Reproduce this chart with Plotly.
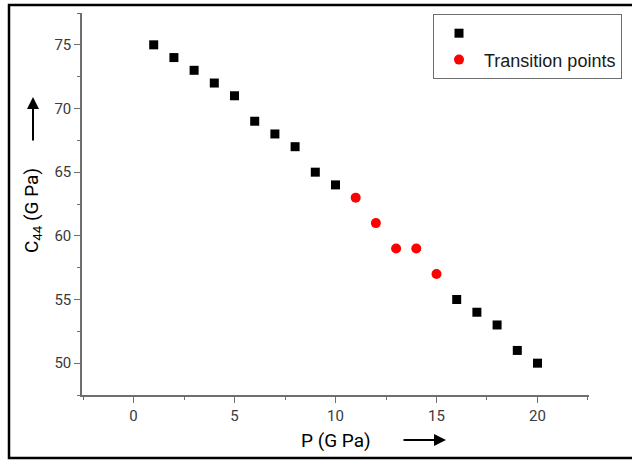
import plotly.graph_objects as go

# Data
p_normal = [1, 2, 3, 4, 5, 6, 7, 8, 9, 10, 16, 17, 18, 19, 20]
c44_normal = [75, 74, 73, 72, 71, 69, 68, 67, 65, 64, 55, 54, 53, 51, 50]
p_transition = [11, 12, 13, 14, 15]
c44_transition = [63, 61, 59, 59, 57]
x_ticks = [0, 5, 10, 15, 20]
y_ticks = [50, 55, 60, 65, 70, 75]

W, H = 632, 460
L, R, T, B = 82, 43, 13, 65
pw, ph = W - L - R, H - T - B


def px(xp):
    return (xp - L) / pw


def py(yp):
    return (H - B - yp) / ph


fig = go.Figure()
fig.add_trace(go.Scatter(
    x=p_normal, y=c44_normal, mode="markers", name=" ",
    marker=dict(symbol="square", size=9, color="black"),
))
fig.add_trace(go.Scatter(
    x=p_transition, y=c44_transition, mode="markers", name="Transition points",
    marker=dict(symbol="circle", size=10, color="#ff0000"),
))

axis_common = dict(
    showgrid=False, zeroline=False, showline=True, linecolor="#6e6e6e", linewidth=1.5,
    ticks="outside", ticklen=6, tickwidth=1.2, tickcolor="#6e6e6e",
    tickfont=dict(family="Roboto", size=15, color="#3a3a3a"),
    minor=dict(ticks="outside", ticklen=3, tickwidth=1.2, tickcolor="#6e6e6e", dtick=2.5),
    automargin=False,
)

fig.update_xaxes(range=[-2.55, 22.55], tickvals=x_ticks, **axis_common)
fig.update_yaxes(range=[47.5, 77.5], tickvals=y_ticks, **axis_common)

fig.update_layout(
    width=W, height=H,
    margin=dict(l=L, r=R, t=T, b=B, pad=0, autoexpand=False),
    plot_bgcolor="white", paper_bgcolor="white",
    showlegend=True,
    legend=dict(
        x=px(433), y=py(14), xanchor="left", yanchor="top",
        bgcolor="white", bordercolor="#6e6e6e", borderwidth=1,
        font=dict(family="Liberation Sans", size=18, color="#1a1a1a"),
        tracegroupgap=0, itemwidth=40,
    ),
    font=dict(family="Roboto"),
)

# Outer frame
fig.add_shape(type="rect", xref="paper", yref="paper",
              x0=px(9), x1=px(640), y0=py(458), y1=py(5),
              line=dict(color="black", width=2.5), layer="above")

# Axis titles
fig.add_annotation(text="P (G Pa)", xref="paper", yref="paper",
                   x=px(336), y=py(440), xanchor="center", yanchor="middle",
                   showarrow=False,
                   font=dict(family="Roboto", size=19, color="black"))
fig.add_annotation(text="C<sub>44</sub> (G Pa)", xref="paper", yref="paper",
                   x=px(33), y=py(211), xanchor="center", yanchor="middle",
                   showarrow=False, textangle=-90,
                   font=dict(family="Roboto", size=19, color="black"))

# Arrows
fig.add_annotation(text="", xref="paper", yref="paper",
                   x=px(446), y=py(440), ax=-44, ay=0,
                   showarrow=True, arrowhead=2, arrowsize=1.2, arrowwidth=2,
                   arrowcolor="black")
fig.add_annotation(text="", xref="paper", yref="paper",
                   x=px(33), y=py(97), ax=0, ay=45,
                   showarrow=True, arrowhead=2, arrowsize=1.2, arrowwidth=2,
                   arrowcolor="black")

fig.write_html("out.html", config={"displayModeBar": False},
               post_script="document.body.style.margin='0px';")
